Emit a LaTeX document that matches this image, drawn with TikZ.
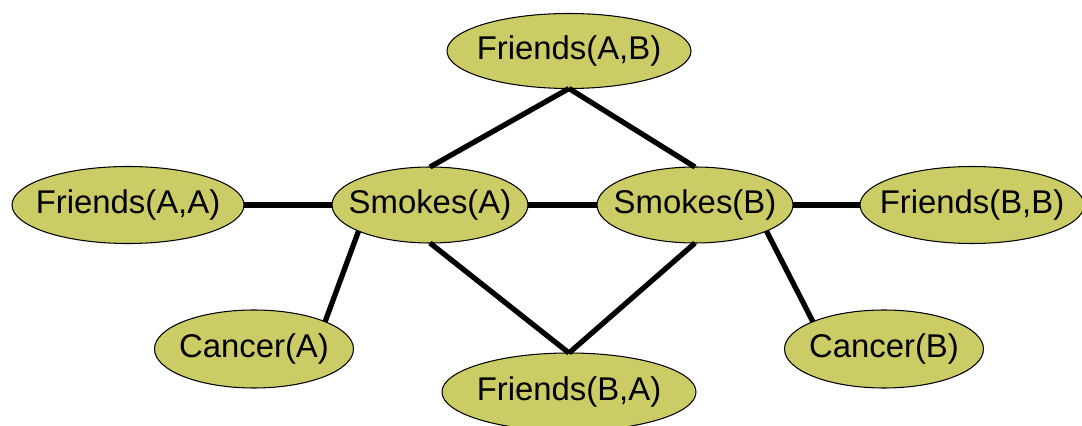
\documentclass[tikz,border=0pt]{standalone}
\usepackage{fontspec}
\setmainfont{Liberation Sans}
\usetikzlibrary{shapes.geometric}
\definecolor{olivefill}{RGB}{204,204,102}
\newcommand{\lbl}[1]{\makebox[0pt]{\raisebox{-1.7pt}{#1}}}
\begin{document}
\begin{tikzpicture}[
  var/.style={ellipse, draw=black, line width=0.6pt, fill=olivefill, inner sep=0pt, outer sep=0pt,
    font=\fontsize{18.7}{22}\selectfont},
  link/.style={line width=3pt, black}
]
\useasboundingbox (0,0) rectangle (21.64,-8.52);
\node[var, minimum width=4.88cm, minimum height=1.50cm] (FAB) at (11.38,-1.02) {\lbl{Friends(A,B)}};
\node[var, minimum width=4.64cm, minimum height=1.54cm] (FAA) at (2.56,-4.10) {\lbl{Friends(A,A)}};
\node[var, minimum width=3.92cm, minimum height=1.52cm] (SA) at (8.60,-4.10) {\lbl{Smokes(A)}};
\node[var, minimum width=3.92cm, minimum height=1.52cm] (SB) at (13.90,-4.10) {\lbl{Smokes(B)}};
\node[var, minimum width=4.48cm, minimum height=1.54cm] (FBB) at (19.44,-4.10) {\lbl{Friends(B,B)}};
\node[var, minimum width=3.98cm, minimum height=1.56cm] (CA) at (5.08,-6.98) {\lbl{Cancer(A)}};
\node[var, minimum width=3.98cm, minimum height=1.56cm] (CB) at (17.68,-6.98) {\lbl{Cancer(B)}};
\node[var, minimum width=5.08cm, minimum height=1.56cm] (FBA) at (11.38,-7.84) {\lbl{Friends(B,A)}};
\draw[link] (FAB.south) -- (SA.north);
\draw[link] (FAB.south) -- (SB.north);
\draw[link] (SA.south) -- (FBA.north);
\draw[link] (SB.south) -- (FBA.north);
\draw[link] (FAA.east) -- (SA.west);
\draw[link] (SA.east) -- (SB.west);
\draw[link] (SB.east) -- (FBB.west);
\draw[link] (SA.200) -- (CA.21);
\draw[link] (SB.340) -- (CB.159);
\end{tikzpicture}
\end{document}
